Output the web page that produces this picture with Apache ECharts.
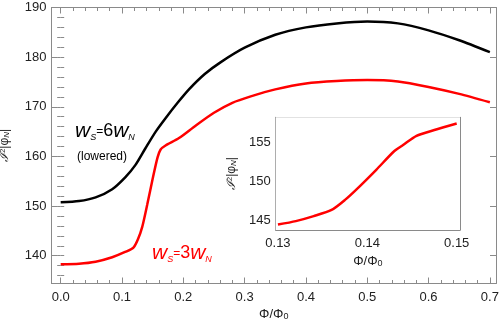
<!DOCTYPE html>
<html>
<head>
<meta charset="utf-8">
<script src="https://cdn.jsdelivr.net/npm/echarts@6/dist/echarts.min.js"></script>
<style>
  html, body { margin: 0; padding: 0; background: #fff; }
  #chart { width: 500px; height: 325px; }
</style>
</head>
<body>
<div id="chart"></div>
<script>
// values
const blackPhi = [0, 0.03, 0.057, 0.084, 0.106, 0.122, 0.138, 0.155, 0.171, 0.19, 0.21, 0.235, 0.26, 0.3, 0.35, 0.4, 0.45, 0.5, 0.55, 0.6, 0.65, 0.7];
const blackVal = [150.75, 151.0, 151.75, 153.4, 155.9, 158.3, 161.6, 165.0, 167.7, 170.7, 173.6, 176.6, 178.9, 181.9, 184.5, 186.0, 186.8, 187.2, 186.8, 185.4, 183.4, 181.0];
const redPhi = [0, 0.03, 0.057, 0.084, 0.106, 0.119, 0.126, 0.133, 0.141, 0.15, 0.158, 0.163, 0.171, 0.193, 0.22, 0.25, 0.28, 0.31, 0.35, 0.4, 0.45, 0.5, 0.55, 0.6, 0.65, 0.7];
const redVal = [138.3, 138.4, 138.8, 139.7, 140.8, 141.7, 143.3, 145.8, 150.2, 155.5, 159.8, 161.4, 162.2, 163.7, 166.2, 168.8, 170.8, 172.1, 173.5, 174.7, 175.2, 175.4, 175.1, 174.0, 172.6, 170.9];
// inset (zoom of the red curve)
const insetPhi = [0.130, 0.132, 0.134, 0.136, 0.1375, 0.139, 0.141, 0.143, 0.144, 0.1455, 0.1475, 0.150];
const insetVal = [144.4, 144.85, 145.5, 146.3, 147.6, 149.2, 151.5, 153.9, 154.7, 155.9, 156.65, 157.5];

const mainXTicks = [0, 0.1, 0.2, 0.3, 0.4, 0.5, 0.6, 0.7];
const mainYTicks = [140, 150, 160, 170, 180, 190];
const insetXTicks = [0.13, 0.14, 0.15];
const insetYTicks = [145, 150, 155];

const frameColor = '#8a8a8a';
const font = '"Liberation Sans", Arial, sans-serif';

function minorsOf(a, b, step) {
    let out = [];
    let n = Math.round((b - a) / step);
    for (let i = 0; i <= n; i++) out.push(+(a + i * step).toFixed(5));
    return out;
}

const xAxes = [];
const yAxes = [];

// one side of a frame: major axis (line, ticks, labels) + minor tick axis
function side(list, grid, pos, min, max, majors, minors, opts) {
    opts = opts || {};
    let idx = list.length;
    list.push({
        type: 'value', gridIndex: grid, position: pos, min: min, max: max,
        axisLine: { show: true, onZero: false, lineStyle: { color: frameColor, width: 1 } },
        axisTick: { show: true, inside: true, length: 6, customValues: majors, lineStyle: { color: frameColor } },
        axisLabel: {
            show: !!opts.labels, customValues: majors, margin: opts.margin || 6,
            fontFamily: font, fontSize: opts.fontSize || 13, color: '#222',
            formatter: opts.fmt
        },
        splitLine: { show: false },
        name: opts.name, nameLocation: 'middle', nameGap: opts.nameGap,
        nameRotate: opts.nameRotate, nameTextStyle: opts.nameStyle
    });
    list.push({
        type: 'value', gridIndex: grid, position: pos, min: min, max: max,
        axisLine: { show: false },
        axisTick: { show: true, inside: true, length: 3.5, customValues: minors, lineStyle: { color: frameColor } },
        axisLabel: { show: false },
        splitLine: { show: false }
    });
    return idx;
}

const nameRich = {
    i: { fontFamily: '"DejaVu Serif", serif', fontStyle: 'italic', fontSize: 12, color: '#222' },
    s: { fontFamily: font, fontSize: 8, color: '#222', verticalAlign: 'top' },
    n: { fontFamily: font, fontStyle: 'italic', fontSize: 8, color: '#222', verticalAlign: 'bottom' },
    t: { fontFamily: font, fontSize: 12, color: '#222' },
    x: { fontFamily: font, fontSize: 13, color: '#222' },
    z: { fontFamily: font, fontSize: 9, color: '#222', verticalAlign: 'bottom' }
};
const yName = '{i|ℐ}{s|2}{t||φ}{n|N}{t||}';
const xName = '{x|Φ/Φ}{z|0}';

// main plot
const mainX = side(xAxes, 0, 'bottom', -0.015, 0.71, mainXTicks, minorsOf(0, 0.7, 0.02),
    { labels: true, fmt: v => v.toFixed(1), margin: 7, name: xName, nameGap: 18, nameStyle: { rich: nameRich } });
side(xAxes, 0, 'top', -0.015, 0.71, mainXTicks, minorsOf(0, 0.7, 0.02));
const mainY = side(yAxes, 0, 'left', 134.4, 190, mainYTicks, minorsOf(136, 190, 2),
    { labels: true, fmt: v => v.toFixed(0), margin: 5, name: yName, nameGap: 41, nameRotate: 90, nameStyle: { rich: nameRich } });
side(yAxes, 0, 'right', 134.4, 190, mainYTicks, minorsOf(136, 190, 2));

// inset
const insetX = side(xAxes, 1, 'bottom', 0.12975, 0.15037, insetXTicks, minorsOf(0.13, 0.15, 0.002),
    { labels: true, fmt: v => v.toFixed(2), margin: 7, name: xName, nameGap: 25, nameStyle: { rich: nameRich } });
side(xAxes, 1, 'top', 0.12975, 0.15037, insetXTicks, minorsOf(0.13, 0.15, 0.002));
const insetY = side(yAxes, 1, 'left', 143.7, 158.3, insetYTicks, minorsOf(144, 158, 1),
    { labels: true, fmt: v => v.toFixed(0), margin: 5, name: yName, nameGap: 38, nameRotate: 90, nameStyle: { rich: nameRich } });
side(yAxes, 1, 'right', 143.7, 158.3, insetYTicks, minorsOf(144, 158, 1));

function pairs(xs, ys) {
    return xs.map((x, i) => [x, ys[i]]);
}

const labelRich = {
    w: { fontFamily: font, fontStyle: 'italic', fontSize: 21 },
    s: { fontFamily: font, fontStyle: 'italic', fontSize: 9, verticalAlign: 'bottom' },
    e: { fontFamily: font, fontSize: 12 },
    d: { fontFamily: font, fontSize: 18 }
};

const chart = echarts.init(document.getElementById('chart'), null, { renderer: 'canvas' });
chart.setOption({
    animation: false,
    backgroundColor: '#fff',
    grid: [
        { left: 51.5, top: 7.5, width: 444.5, height: 276, outerBoundsMode: 'none', containLabel: false },
        { left: 275.7, top: 117.3, width: 184.3, height: 112.7, outerBoundsMode: 'none', containLabel: false,
          show: true, backgroundColor: '#fff', borderWidth: 0, z: 5 }
    ],
    xAxis: xAxes,
    yAxis: yAxes,
    series: [{
        type: 'line', xAxisIndex: mainX, yAxisIndex: mainY,
        data: pairs(blackPhi, blackVal),
        showSymbol: false, smooth: 0.25,
        lineStyle: { color: '#000', width: 2.5 }
    }, {
        type: 'line', xAxisIndex: mainX, yAxisIndex: mainY,
        data: pairs(redPhi, redVal),
        showSymbol: false, smooth: 0.25,
        lineStyle: { color: '#ff0000', width: 2.5 }
    }, {
        type: 'line', xAxisIndex: insetX, yAxisIndex: insetY,
        data: pairs(insetPhi, insetVal),
        showSymbol: false, smooth: 0.25, z: 6,
        lineStyle: { color: '#ff0000', width: 2.5 }
    }],
    graphic: [{
        type: 'text', x: 75, y: 142, z: 10,
        style: { text: '{w|w}{s|S}{e|=}{d|6}{w|w}{s|N}', rich: labelRich, fill: '#000', textVerticalAlign: 'bottom' }
    }, {
        type: 'text', x: 77, y: 157, z: 10,
        style: { text: '(lowered)', fontFamily: font, fontSize: 12, fill: '#000', textVerticalAlign: 'middle' }
    }, {
        type: 'text', x: 152, y: 264, z: 10,
        style: { text: '{w|w}{s|S}{e|=}{d|3}{w|w}{s|N}', rich: labelRich, fill: '#ff0000', textVerticalAlign: 'bottom' }
    }]
});
</script>
</body>
</html>
